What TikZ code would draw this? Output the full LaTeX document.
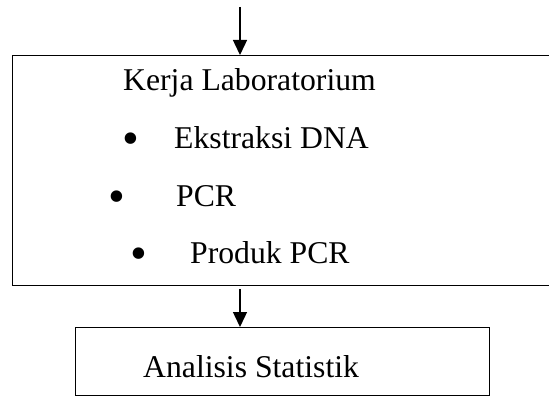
\documentclass[tikz,border=0pt]{standalone}
\usepackage{fontspec}
\setmainfont{Liberation Serif}
\usetikzlibrary{arrows.meta}

\tikzset{
  box/.style={draw, line width=1.4pt, inner sep=0pt},
  flow/.style={-{Triangle[width=14pt,length=15pt]}, line width=1.4pt},
  txt/.style={anchor=base west, inner sep=0pt},
  dot/.style={anchor=center, inner sep=0pt, font=\fontsize{48}{48}\selectfont}
}

\begin{document}
\begin{tikzpicture}[x=1pt, y=-1pt, font=\fontsize{31.7}{38}\selectfont]
\useasboundingbox (0,0) rectangle (549,396);
\clip (0,0) rectangle (549,396);

\node[box, anchor=north west, minimum width=560pt, minimum height=230pt] (lab) at (12,55) {};
\node[box, anchor=north west, minimum width=414pt, minimum height=68pt] (stat) at (75,327) {};

\node[txt] (kerja) at (123,91) {Kerja Laboratorium};
\node[dot] (b1) at (131,144) {•};
\node[txt] (dna) at (174,148) {Ekstraksi DNA};
\node[dot] (b2) at (117,202) {•};
\node[txt] (pcr) at (176,206) {PCR};
\node[dot] (b3) at (139,259) {•};
\node[txt] (produk) at (190,263) {Produk PCR};
\node[txt] (analisis) at (143,377) {Analisis Statistik};

\coordinate (start) at (240,7);
\draw[flow] (start) -- (start |- lab.north);
\draw[flow, shorten <=3pt] (start |- lab.south) -- (start |- stat.north);

\end{tikzpicture}
\end{document}
